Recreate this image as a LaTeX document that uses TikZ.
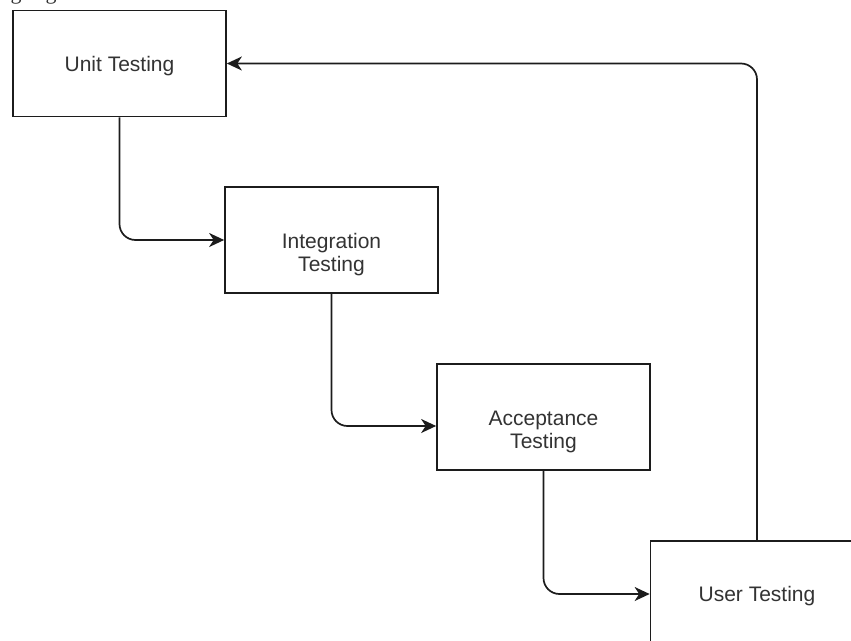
\documentclass[tikz,border=0pt]{standalone}
\usepackage{fontspec}
\setmainfont{Liberation Sans}
\newfontfamily\fragfont{Liberation Serif}
\usetikzlibrary{arrows.meta}
\definecolor{inkline}{HTML}{1C1C1C}
\definecolor{inktext}{HTML}{333333}
\begin{document}
\begin{tikzpicture}[x=1pt,y=-1pt,
  stagebox/.style={draw=inkline, line width=1.7pt, fill=white, rectangle,
    minimum width=213pt, minimum height=106pt, inner sep=0pt},
  stagetext/.style={inner sep=0pt, align=center, text=inktext,
    font=\fontsize{21}{23}\selectfont},
  flow/.style={draw=inkline, line width=1.7pt, rounded corners=16pt,
    -{Stealth[length=15pt,width=14pt,inset=4.5pt]}}]
  \useasboundingbox (0,0) rectangle (851,640);

  % descenders of a heading line cut off at the top edge
  \node[font=\fragfont\fontsize{22}{24}\selectfont, text=inktext, anchor=base, inner sep=0pt] (frag1) at (16,-1) {g};
  \node[font=\fragfont\fontsize{22}{24}\selectfont, text=inktext, anchor=base, inner sep=0pt] (frag2) at (51,-1) {g};

  % stage boxes
  \node[stagebox] (unit)   at (119.5,63.5) {};
  \node[stagebox] (integ)  at (331.5,240) {};
  \node[stagebox] (accept) at (543.5,417) {};
  \node[stagebox] (user)   at (757,594) {};

  % labels
  \node[stagetext] (unit-t)   at (119.5,66.5) {Unit Testing};
  \node[stagetext] (integ-t)  at (331.5,255) {Integration\\Testing};
  \node[stagetext] (accept-t) at (543.5,431.5) {Acceptance\\Testing};
  \node[stagetext] (user-t)   at (757,596.5) {User Testing};

  % connectors
  \draw[flow] (unit.south) |- (integ.west);
  \draw[flow] (integ.south) |- ([yshift=-9pt]accept.west);
  \draw[flow] (accept.south) |- (user.west);
  \draw[flow] (user.north) |- (unit.east);
\end{tikzpicture}
\end{document}
